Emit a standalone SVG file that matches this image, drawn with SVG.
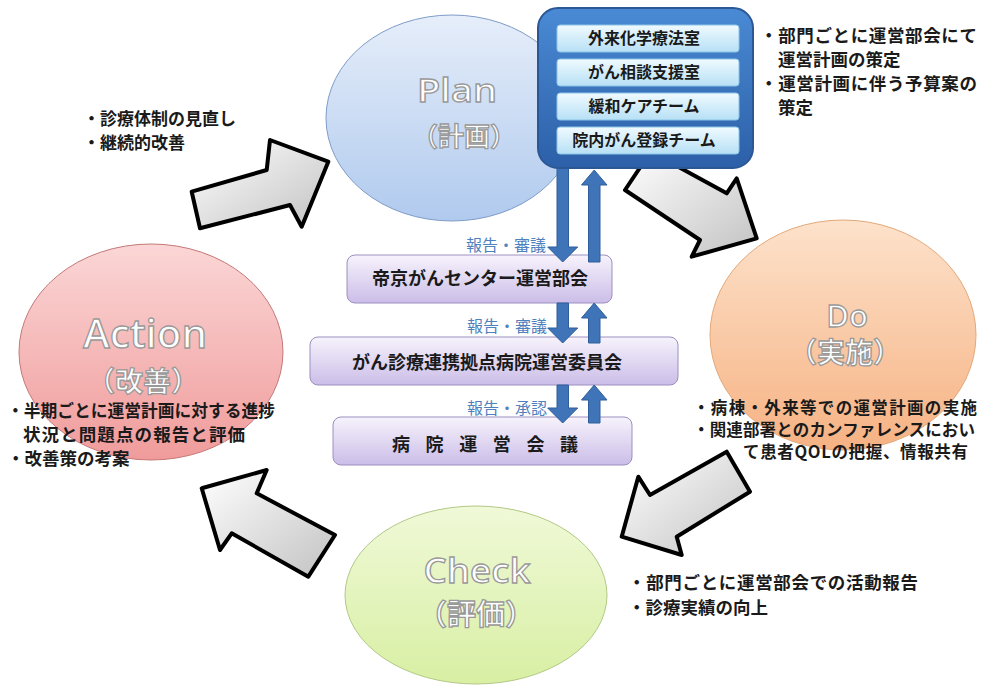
<svg xmlns="http://www.w3.org/2000/svg" width="981" height="686" viewBox="0 0 981 686">
<defs>
<linearGradient id="gPlan" x1="0" y1="0" x2="0" y2="1"><stop offset="0" stop-color="#e6eefa"/><stop offset="1" stop-color="#b0caee"/></linearGradient>
<linearGradient id="gDo" x1="0" y1="0" x2="0" y2="1"><stop offset="0" stop-color="#fde2cb"/><stop offset="1" stop-color="#f6b283"/></linearGradient>
<linearGradient id="gAction" x1="0" y1="0" x2="0" y2="1"><stop offset="0" stop-color="#fbd6d6"/><stop offset="1" stop-color="#f09b9b"/></linearGradient>
<linearGradient id="gCheck" x1="0" y1="0" x2="0" y2="1"><stop offset="0" stop-color="#f0f9d8"/><stop offset="1" stop-color="#d8efa3"/></linearGradient>
<linearGradient id="gArrow" x1="0" y1="0" x2="1" y2="1"><stop offset="0" stop-color="#ffffff"/><stop offset="1" stop-color="#c2c2c2"/></linearGradient>
<linearGradient id="gBlue" x1="0" y1="0" x2="0" y2="1"><stop offset="0" stop-color="#4a8ad4"/><stop offset="1" stop-color="#2c60a8"/></linearGradient>
<linearGradient id="gRow" x1="0" y1="0" x2="0" y2="1"><stop offset="0" stop-color="#f0faff"/><stop offset="1" stop-color="#b7e0f5"/></linearGradient>
<linearGradient id="gCom" x1="0" y1="0" x2="0" y2="1"><stop offset="0" stop-color="#f7f3fc"/><stop offset="1" stop-color="#cbbde8"/></linearGradient>
</defs>
<style>
.ttl{font-family:"Open Sans","Noto Sans CJK JP",sans-serif;font-weight:600;fill:#ffffff;stroke:#999999;stroke-width:1.3;text-anchor:middle}
.jp{font-family:"Noto Sans CJK JP",sans-serif;font-weight:bold;fill:#1a1a1a}
.row{font-family:"Noto Sans CJK JP",sans-serif;font-weight:bold;fill:#1a1a1a;font-size:16px;text-anchor:middle}
.com{font-family:"Noto Sans CJK JP",sans-serif;font-weight:bold;fill:#1a1a1a;font-size:18px;text-anchor:middle}
.lbl{font-family:"Noto Sans CJK JP",sans-serif;fill:#4f81bd;font-size:16px;text-anchor:end}
.big{fill:url(#gArrow);stroke:#000;stroke-width:4;stroke-linejoin:round}
.blu{fill:#3f74b8;stroke:#2f5e9a;stroke-width:1}
.cbox{fill:url(#gCom);stroke:#9b8fc0;stroke-width:1}
</style>

<g id="node-plan">
<ellipse cx="452" cy="118" rx="126" ry="103" fill="url(#gPlan)" stroke="#7f9cc8" stroke-width="1"/>
<text class="ttl" x="457" y="102" font-size="33" textLength="80" lengthAdjust="spacingAndGlyphs">Plan</text>
<text class="ttl" x="464" y="146" font-size="26">（計画）</text>
</g>
<g id="node-do">
<ellipse cx="843" cy="335" rx="133" ry="115" fill="url(#gDo)" stroke="#e2a97a" stroke-width="1"/>
<text class="ttl" x="847" y="327" font-size="31">Do</text>
<text class="ttl" x="845" y="363" font-size="28">（実施）</text>
</g>
<g id="node-action">
<ellipse cx="151" cy="352" rx="132" ry="108" fill="url(#gAction)" stroke="#c47878" stroke-width="1"/>
<text class="ttl" x="145" y="348" font-size="39" textLength="124" lengthAdjust="spacingAndGlyphs">Action</text>
<text class="ttl" x="143" y="392" font-size="28">（改善）</text>
</g>
<g id="node-check">
<ellipse cx="476" cy="595" rx="131" ry="89" fill="url(#gCheck)" stroke="#b2c985" stroke-width="1"/>
<text class="ttl" x="477" y="583" font-size="35" textLength="107" lengthAdjust="spacingAndGlyphs">Check</text>
<text class="ttl" x="476" y="625" font-size="29">（評価）</text>
</g>

<g id="node-committee1">
<rect class="cbox" x="347" y="255" width="265" height="48" rx="8"/>
<text class="com" x="480" y="285">帝京がんセンター運営部会</text>
</g>
<g id="node-committee2">
<rect class="cbox" x="310" y="337" width="368" height="48" rx="8"/>
<text class="com" x="487" y="369" font-size="18.5">がん診療連携拠点病院運営委員会</text>
</g>
<g id="node-committee3">
<rect class="cbox" x="333" y="417" width="299" height="48" rx="8"/>
<text class="com" x="485" y="451" textLength="186" lengthAdjust="spacing">病 院 運 営 会 議</text>
</g>

<g id="connectors">
<polygon class="big" points="191.7,191.7 266.7,170 270,140 328.3,161.7 301.7,226.7 290,205 200,228.3"/>
<polygon class="big" points="650.7,151.7 726.7,193.3 736.7,178.3 756.7,238.3 691.7,256.7 700,240 625,190"/>
<polygon class="big" points="621.7,536.7 638.3,476.7 650,495 726.7,451.7 750,491.7 676.7,536.7 681.7,555"/>
<polygon class="big" points="201.7,488.3 266.7,470 256.7,493.3 335,535 308.3,576.7 231.7,533.3 220,550"/>
<path class="blu" d="M557,166 H568.5 V247 H577.7 L562.7,262 L547.7,247 H557 Z"/>
<path class="blu" d="M594.2,170 L607,185 H600 V262 H588.5 V185 H581.5 Z"/>
<path class="blu" d="M557,303 H568.5 V328 H577.7 L562.7,343 L547.7,328 H557 Z"/>
<path class="blu" d="M594.2,303 L607,318 H600 V343 H588.5 V318 H581.5 Z"/>
<path class="blu" d="M557,385 H568.5 V408 H577.7 L562.7,423 L547.7,408 H557 Z"/>
<path class="blu" d="M594.2,385 L607,400 H600 V423 H588.5 V400 H581.5 Z"/>
<text class="lbl" x="546" y="251">報告・審議</text>
<text class="lbl" x="547" y="332">報告・審議</text>
<text class="lbl" x="547" y="414">報告・承認</text>
</g>

<g id="node-departments">
<rect x="538" y="8" width="215" height="160" rx="20" fill="url(#gBlue)" stroke="#2b5797" stroke-width="2"/>
<rect x="557" y="25" width="182" height="27" rx="3" fill="url(#gRow)" stroke="#8cc4e6"/>
<rect x="557" y="59" width="182" height="27" rx="3" fill="url(#gRow)" stroke="#8cc4e6"/>
<rect x="557" y="93" width="182" height="27" rx="3" fill="url(#gRow)" stroke="#8cc4e6"/>
<rect x="557" y="127" width="182" height="27" rx="3" fill="url(#gRow)" stroke="#8cc4e6"/>
<text class="row" x="644" y="44">外来化学療法室</text>
<text class="row" x="644" y="78">がん相談支援室</text>
<text class="row" x="644" y="112">緩和ケアチーム</text>
<text class="row" x="644" y="146">院内がん登録チーム</text>
</g>

<g id="note-plan" class="jp" font-size="17.5">
<text x="760" y="42" textLength="217" lengthAdjust="spacing">・部門ごとに運営部会にて</text>
<text x="778" y="66">運営計画の策定</text>
<text x="760" y="90" textLength="217" lengthAdjust="spacing">・運営計画に伴う予算案の</text>
<text x="778" y="114">策定</text>
</g>
<g id="note-action-top" class="jp" font-size="17">
<text x="83" y="125">・診療体制の見直し</text>
<text x="83" y="149">・継続的改善</text>
</g>
<g id="note-do" class="jp" font-size="16.5">
<text x="693" y="414" textLength="284" lengthAdjust="spacing">・病棟・外来等での運営計画の実施</text>
<text x="693" y="436" textLength="282" lengthAdjust="spacing">・関連部署とのカンファレンスにおい</text>
<text x="743" y="458" textLength="225" lengthAdjust="spacing">て患者QOLの把握、情報共有</text>
</g>
<g id="note-action" class="jp" font-size="17.5">
<text x="7" y="417" textLength="268" lengthAdjust="spacingAndGlyphs">・半期ごとに運営計画に対する進捗</text>
<text x="23" y="441" textLength="222" lengthAdjust="spacing">状況と問題点の報告と評価</text>
<text x="7" y="465">・改善策の考案</text>
</g>
<g id="note-check" class="jp" font-size="17.5">
<text x="628" y="589" textLength="290" lengthAdjust="spacing">・部門ごとに運営部会での活動報告</text>
<text x="628" y="614">・診療実績の向上</text>
</g>
</svg>
